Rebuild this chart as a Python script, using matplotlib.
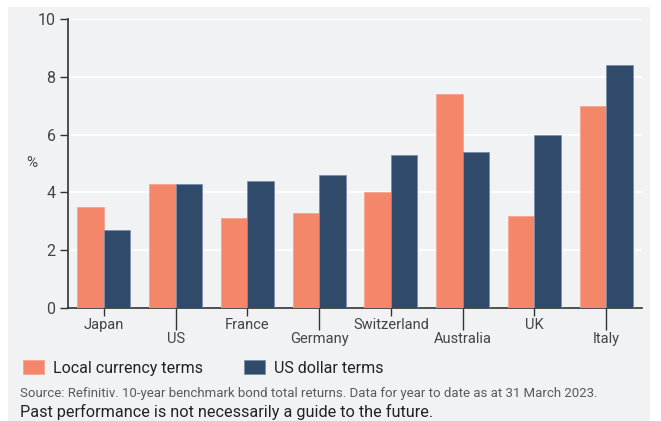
import matplotlib.pyplot as plt
import matplotlib.patches as mpatches
import numpy as np

plt.rcParams['font.family'] = ['Roboto', 'DejaVu Sans']

countries = ['Japan', 'US', 'France', 'Germany', 'Switzerland', 'Australia', 'UK', 'Italy']
local_ccy = [3.5, 4.3, 3.1, 3.3, 4.0, 7.4, 3.2, 7.0]
usd = [2.7, 4.3, 4.4, 4.6, 5.3, 5.4, 6.0, 8.4]

orange = '#f4866a'
navy = '#2f4a6b'
bg = '#f0f2f4'
txt = '#444444'

fig = plt.figure(figsize=(6.61, 4.21), dpi=100)
fig.patch.set_facecolor('white')
fig.add_artist(mpatches.Rectangle((8 / 661, 0), 642 / 661, 414 / 421,
                                  transform=fig.transFigure, facecolor=bg,
                                  edgecolor='none', zorder=-10))

ax = fig.add_axes([68 / 661, 113 / 421, 574 / 661, 289 / 421])
ax.set_facecolor(bg)

x = np.arange(len(countries))
w = 0.37
ax.bar(x - w / 2, local_ccy, w, color=orange, edgecolor='#f7a48f', linewidth=0.6,
       zorder=3, label='Local currency terms')
ax.bar(x + w / 2, usd, w, color=navy, edgecolor='#7d8ea5', linewidth=0.6,
       zorder=3, label='US dollar terms')

ax.set_xlim(-0.5, len(countries) - 0.5)
ax.set_ylim(0, 10)
ax.set_yticks([0, 2, 4, 6, 8, 10])
ax.yaxis.grid(True, color='white', linewidth=1.3, zorder=0)
ax.tick_params(axis='y', direction='out', length=6, width=1, color='#333333',
               labelsize=11.5, labelcolor=txt, pad=3)

for s in ['top', 'right']:
    ax.spines[s].set_visible(False)
for s in ['left', 'bottom']:
    ax.spines[s].set_color('#333333')
    ax.spines[s].set_linewidth(1.2)

# staggered country labels: even ones short ticks, odd ones long ticks
ax.set_xticks(x[::2])
ax.set_xticklabels(countries[::2])
ax.set_xticks(x[1::2], minor=True)
ax.set_xticklabels(countries[1::2], minor=True)
ax.tick_params(axis='x', which='major', length=6, width=1, color='#333333',
               labelsize=10.5, labelcolor=txt, pad=1)
ax.tick_params(axis='x', which='minor', length=16, width=1, color='#333333',
               labelsize=10.5, labelcolor=txt, pad=1)

fig.text(32 / 661, 1 - 163 / 421, '%', fontsize=11, color=txt, ha='center', va='center')

leg = ax.legend(loc='center left', bbox_to_anchor=(12 / 661, 1 - 368 / 421),
                bbox_transform=fig.transFigure, ncol=2, frameon=False,
                fontsize=11.5, labelcolor='#222222', handlelength=1.3, handleheight=0.9,
                handletextpad=0.55, columnspacing=2.6, borderpad=0.2)

fig.text(20 / 661, 1 - 394 / 421,
         'Source: Refinitiv. 10-year benchmark bond total returns. Data for year to date as at 31 March 2023.',
         fontsize=9.5, color='#5a5a5a', ha='left', va='center')
fig.text(20 / 661, 1 - 412 / 421,
         'Past performance is not necessarily a guide to the future.',
         fontsize=11.7, color='#222222', ha='left', va='center')

fig.savefig('out.png', dpi=100)
